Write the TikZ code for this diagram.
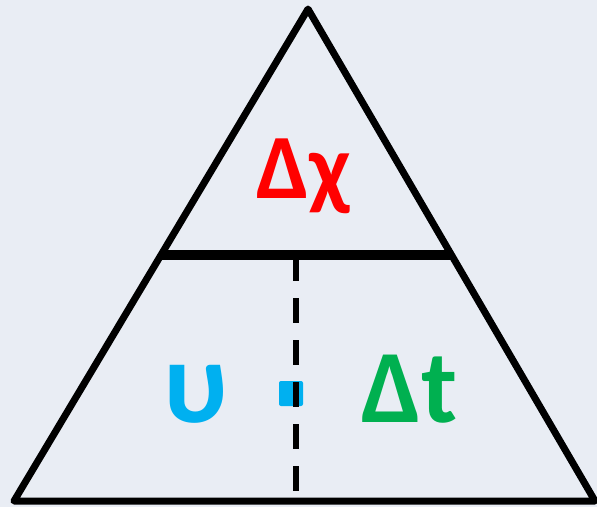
\documentclass[tikz,border=0pt]{standalone}
\usepackage{fontspec}
\setmainfont{Carlito}
\usetikzlibrary{calc}
\definecolor{bgc}{HTML}{E9EDF4}
\definecolor{redc}{HTML}{FF0000}
\definecolor{bluec}{HTML}{00B0F0}
\definecolor{greenc}{HTML}{00B050}
\tikzset{
  edge/.style={line width=7pt, line join=round, draw=black},
  midline/.style={line width=10pt, draw=black},
  splitline/.style={line width=6pt, draw=black, dash pattern=on 25pt off 17pt},
  lbl/.style={font=\bfseries, inner sep=0pt, anchor=base}
}
\begin{document}
\begin{tikzpicture}[x=1pt,y=-1pt]
\fill[bgc] (0,0) rectangle (597,507);
\useasboundingbox (0,0) rectangle (597,507);
\coordinate (A) at (308,9);
\coordinate (B) at (14,501);
\coordinate (C) at (595,501);
\coordinate (L) at ($(A)!0.5!(B)$);
\coordinate (R) at ($(A)!0.5!(C)$);
\coordinate (Dtop) at (296,256);
\coordinate (Dbot) at (296,498);
\draw[edge] (A) -- (B) -- (C) -- cycle;
\draw[midline] (L) -- (R);
\fill[bluec, rounded corners=2pt] (279,381) rectangle (303,406);
\draw[splitline] (Dtop) -- (Dbot);
\node[lbl, text=redc, font=\fontsize{92}{92}\selectfont\bfseries] (dx) at (304,198) {Δχ};
\node[lbl, text=bluec, font=\fontsize{118}{118}\selectfont\bfseries] (v) at (196,422) {υ};
\node[lbl, text=greenc, font=\fontsize{104}{104}\selectfont\bfseries] (dt) at (409.5,422) {Δt};
\end{tikzpicture}
\end{document}
